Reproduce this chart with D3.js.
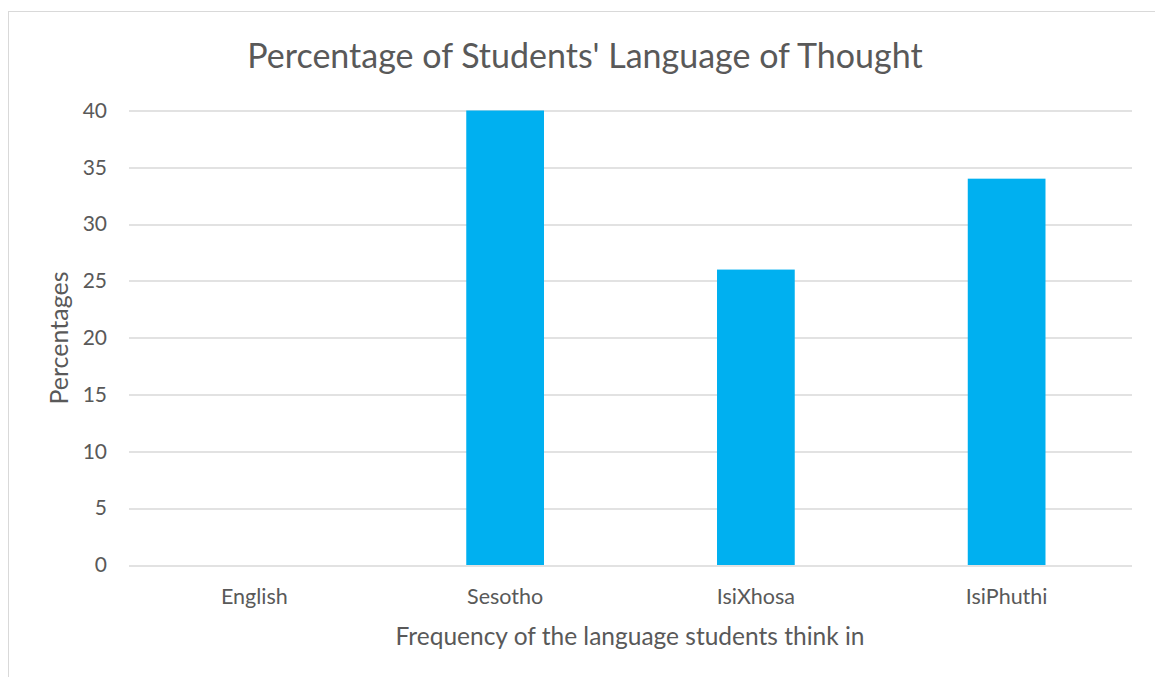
<!DOCTYPE html>
<html>
<head>
<meta charset="utf-8">
<script src="https://cdn.jsdelivr.net/npm/d3@7"></script>
<style>
  body { margin: 0; background: #fff; }
  text { font-family: Lato, "Open Sans", sans-serif; fill: #595959; }
</style>
</head>
<body>
<div id="chart"></div>
<script>
var languages = ["English", "Sesotho", "IsiXhosa", "IsiPhuthi"];
var percentages = [0, 40, 26, 34];
var yTicks = [0, 5, 10, 15, 20, 25, 30, 35, 40];

var svgWidth = 1155;
var svgHeight = 677;

var margin = { top: 110.5, right: 23, bottom: 112, left: 129 };
var width = svgWidth - margin.left - margin.right;
var height = svgHeight - margin.top - margin.bottom;

var svg = d3.select("#chart")
  .append("svg")
  .attr("width", svgWidth)
  .attr("height", svgHeight);

// chart border (cut off at right and bottom like the reference)
svg.append("rect")
  .attr("x", 8.5)
  .attr("y", 11.5)
  .attr("width", 1200)
  .attr("height", 700)
  .attr("fill", "none")
  .attr("stroke", "#d9d9d9")
  .attr("stroke-width", 1);

var chartGroup = svg.append("g")
  .attr("transform", `translate(${margin.left}, ${margin.top})`);

var xScale = d3.scaleBand()
  .domain(languages)
  .range([0, width])
  .paddingInner(0.69)
  .paddingOuter(0.345);

var yScale = d3.scaleLinear()
  .domain([0, 40])
  .range([height, 0]);

// gridlines
chartGroup.selectAll("line.grid")
  .data(yTicks)
  .enter()
  .append("line")
  .attr("class", "grid")
  .attr("x1", 0)
  .attr("x2", width)
  .attr("y1", d => Math.round(yScale(d)) + 0.5)
  .attr("y2", d => Math.round(yScale(d)) + 0.5)
  .attr("stroke", "#d9d9d9")
  .attr("stroke-width", 1.5);

// bars
chartGroup.selectAll("rect.bar")
  .data(percentages)
  .enter()
  .append("rect")
  .attr("class", "bar")
  .attr("x", (d, i) => xScale(languages[i]))
  .attr("y", d => yScale(d))
  .attr("width", xScale.bandwidth())
  .attr("height", d => height - yScale(d))
  .attr("fill", "#00b0f0");

// y axis labels
var leftAxis = d3.axisLeft(yScale).tickValues(yTicks).tickSize(0).tickPadding(22);
var yAxis = chartGroup.append("g").call(leftAxis);
yAxis.select(".domain").remove();
yAxis.selectAll("text")
  .style("font-size", "21px")
  .attr("fill", "#595959");

// x axis labels
var bottomAxis = d3.axisBottom(xScale).tickSize(0).tickPadding(24);
var xAxis = chartGroup.append("g")
  .attr("transform", `translate(0, ${height})`)
  .call(bottomAxis);
xAxis.select(".domain").remove();
xAxis.selectAll("text")
  .style("font-size", "21.5px")
  .attr("fill", "#595959");

// title
svg.append("text")
  .attr("x", 585)
  .attr("y", 68)
  .attr("text-anchor", "middle")
  .style("font-size", "34px")
  .text("Percentage of Students' Language of Thought");

// x axis title
svg.append("text")
  .attr("x", 630)
  .attr("y", 645)
  .attr("text-anchor", "middle")
  .style("font-size", "24.5px")
  .text("Frequency of the language students think in");

// y axis title
svg.append("text")
  .attr("transform", "translate(68, 338) rotate(-90)")
  .attr("text-anchor", "middle")
  .style("font-size", "25px")
  .text("Percentages");
</script>
</body>
</html>
